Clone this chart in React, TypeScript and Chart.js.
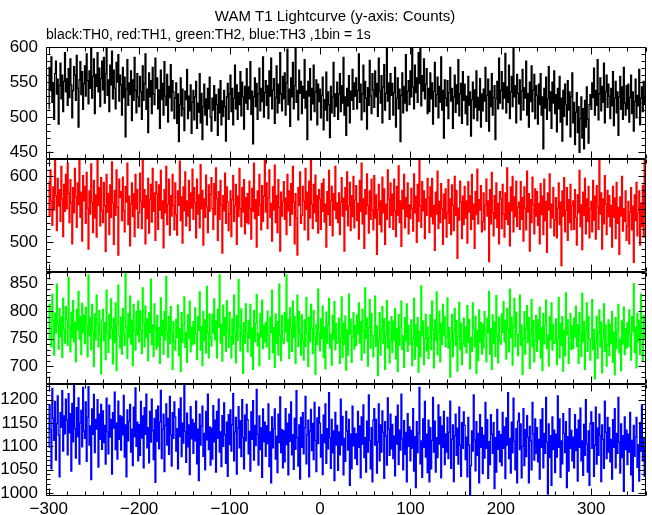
import { useEffect, useRef } from "react";
import { Chart, registerables } from "chart.js";

Chart.register(...registerables);

// ---- data (1 bin = 1 s, first bin at t = -300 s) ----
const T_START = -300;

const TH0 = [
  512, 571, 538, 586, 521, 549, 497, 562, 580, 533, 554, 490, 545, 577, 526, 560, 508, 551, 592, 536,
  555, 517, 569, 528, 583, 546, 499, 538, 572, 560, 524, 588, 541, 486, 553, 579, 532, 565, 511, 548,
  573, 530, 590, 552, 519, 566, 541, 598, 527, 558, 583, 505, 561, 544, 592, 536, 570, 515, 555, 580,
  539, 585, 520, 562, 600, 531, 553, 508, 574, 546, 594, 526, 567, 541, 512, 578, 550, 589, 523, 560,
  546, 503, 571, 528, 557, 472, 540, 582, 517, 549, 532, 566, 495, 553, 524, 585, 538, 506, 562, 529,
  515, 558, 536, 497, 573, 524, 548, 590, 511, 540, 478, 563, 529, 552, 505, 571, 533, 518, 584, 541,
  556, 512, 539, 484, 567, 525, 548, 503, 579, 530, 517, 561, 493, 544, 528, 575, 509, 552, 536, 498,
  527, 549, 491, 533, 465, 518, 556, 502, 540, 512, 481, 537, 525, 568, 498, 530, 509, 546, 477, 521,
  538, 496, 529, 551, 484, 520, 507, 562, 492, 534, 468, 515, 547, 503, 526, 489, 541, 512, 557, 500,
  480, 527, 510, 545, 495, 532, 518, 474, 540, 506, 552, 489, 523, 501, 538, 515, 466, 529, 548, 497,
  533, 560, 508, 541, 489, 527, 574, 512, 546, 497, 535, 518, 565, 502, 550, 529, 483, 544, 520, 569,
  511, 543, 526, 579, 504, 537, 462, 529, 556, 515, 548, 497, 533, 570, 509, 541, 522, 586, 500, 535,
  552, 517, 545, 498, 566, 530, 584, 512, 539, 555, 491, 528, 573, 506, 547, 520, 592, 533, 509, 558,
  526, 563, 503, 549, 597, 518, 540, 487, 556, 529, 578, 512, 545, 600, 521, 538, 496, 567, 534, 551,
  505, 544, 527, 582, 513, 537, 468, 551, 530, 569, 496, 541, 519, 574, 508, 536, 553, 489, 547, 522,
  540, 499, 531, 557, 482, 525, 510, 564, 495, 536, 518, 471, 544, 506, 529, 578, 501, 533, 515, 550,
  497, 533, 562, 508, 545, 520, 585, 503, 529, 474, 541, 516, 559, 492, 537, 524, 568, 511, 549, 530,
  556, 512, 538, 590, 521, 547, 496, 533, 574, 508, 551, 527, 483, 542, 517, 581, 530, 505, 562, 539,
  514, 566, 529, 548, 501, 584, 537, 520, 559, 492, 543, 575, 510, 534, 600, 523, 549, 497, 562, 531,
  548, 503, 535, 571, 486, 527, 556, 512, 540, 465, 531, 563, 506, 544, 520, 589, 509, 537, 552, 518,
  566, 529, 600, 543, 512, 574, 535, 556, 521, 592, 548, 600, 516, 559, 537, 583, 526, 547, 569, 505,
  541, 508, 563, 526, 549, 490, 537, 578, 515, 532, 557, 499, 544, 521, 586, 510, 538, 470, 553, 527,
  516, 552, 498, 535, 571, 523, 541, 484, 529, 560, 507, 546, 519, 582, 502, 533, 548, 491, 565, 524,
  547, 505, 530, 489, 558, 517, 536, 473, 525, 550, 498, 539, 514, 566, 495, 528, 510, 555, 486, 533,
  509, 540, 523, 571, 494, 531, 554, 480, 537, 515, 562, 503, 528, 545, 468, 526, 551, 512, 584, 520,
  538, 565, 512, 549, 527, 591, 506, 543, 521, 574, 498, 536, 558, 515, 600, 529, 545, 492, 561, 534,
  519, 553, 496, 537, 568, 510, 542, 527, 580, 503, 534, 486, 550, 522, 573, 508, 539, 561, 498, 545,
  531, 490, 547, 518, 562, 503, 529, 455, 541, 513, 557, 497, 526, 572, 509, 536, 484, 550, 520, 566,
  505, 532, 479, 541, 512, 558, 493, 527, 466, 538, 501, 547, 518, 489, 552, 510, 536, 472, 529, 563,
  492, 521, 461, 507, 535, 478, 515, 450, 498, 529, 470, 512, 455, 524, 486, 543, 497, 463, 518, 532,
  511, 549, 528, 570, 503, 538, 517, 582, 496, 533, 556, 509, 544, 521, 577, 492, 536, 560, 514, 547,
  530, 498, 541, 516, 565, 488, 527, 551, 506, 536, 474, 529, 558, 511, 543, 497, 571, 520, 503, 545,
  512, 547, 493, 528, 560, 505, 536, 480, 522, 554, 499, 531, 516, 568, 489, 527, 543, 508, 551, 518,
  530,
];

const TH1 = [
  592, 541, 610, 563, 526, 584, 549, 626, 571, 518, 597, 555, 580, 532, 615, 566, 509, 588, 547, 603,
  551, 620, 574, 530, 595, 560, 498, 583, 545, 612, 569, 523, 590, 557, 626, 538, 576, 502, 601, 563,
  585, 529, 606, 552, 490, 578, 543, 619, 561, 515, 594, 537, 572, 508, 626, 556, 583, 525, 598, 548,
  530, 591, 555, 486, 603, 546, 574, 512, 587, 538, 622, 560, 497, 579, 541, 610, 553, 481, 596, 568,
  577, 533, 599, 548, 516, 585, 561, 620, 527, 570, 495, 558, 590, 539, 574, 509, 603, 551, 580, 522,
  545, 605, 562, 521, 626, 553, 580, 498, 571, 536, 597, 514, 565, 588, 531, 612, 547, 575, 503, 592,
  574, 520, 587, 549, 609, 536, 563, 492, 580, 545, 615, 527, 558, 596, 511, 571, 540, 603, 556, 519,
  590, 542, 511, 578, 556, 623, 533, 569, 499, 584, 548, 607, 525, 563, 540, 594, 518, 575, 552, 611,
  535, 583, 560, 507, 596, 543, 572, 522, 618, 551, 579, 496, 566, 538, 602, 554, 515, 587, 547, 573,
  598, 551, 520, 589, 542, 613, 566, 503, 577, 535, 594, 557, 484, 571, 548, 605, 529, 584, 561, 518,
  543, 578, 509, 565, 601, 532, 556, 588, 497, 570, 539, 612, 551, 524, 583, 546, 595, 513, 568, 530,
  574, 528, 593, 551, 505, 582, 547, 620, 536, 565, 493, 578, 541, 603, 557, 519, 586, 532, 570, 626,
  546, 590, 521, 567, 610, 538, 559, 502, 584, 549, 617, 530, 571, 515, 595, 553, 487, 576, 540, 562,
  592, 535, 567, 512, 603, 548, 578, 526, 589, 543, 615, 561, 498, 574, 537, 481, 583, 556, 607, 529,
  541, 585, 563, 519, 612, 550, 576, 504, 593, 537, 626, 558, 521, 588, 545, 602, 532, 571, 514, 580,
  566, 520, 589, 547, 596, 531, 558, 493, 577, 542, 609, 526, 563, 585, 510, 574, 549, 615, 536, 560,
  530, 575, 512, 561, 598, 540, 567, 487, 583, 549, 607, 525, 555, 591, 518, 571, 539, 600, 522, 564,
  586, 533, 559, 505, 594, 547, 620, 528, 566, 491, 580, 543, 604, 556, 514, 578, 535, 596, 549, 519,
  601, 537, 572, 482, 550, 588, 527, 563, 516, 599, 545, 581, 497, 558, 535, 610, 566, 523, 590, 541,
  573, 520, 596, 548, 509, 585, 541, 616, 530, 563, 494, 579, 551, 603, 522, 568, 539, 590, 513, 557,
  536, 582, 551, 517, 604, 545, 570, 500, 588, 532, 626, 555, 523, 592, 548, 578, 506, 566, 541, 597,
  568, 515, 584, 539, 597, 528, 556, 488, 576, 543, 608, 521, 562, 530, 589, 551, 497, 573, 536, 581,
  508, 545, 595, 529, 566, 512, 587, 556, 518, 600, 541, 579, 476, 552, 534, 593, 561, 506, 570, 527,
  585, 537, 563, 499, 592, 546, 571, 520, 603, 535, 558, 491, 577, 542, 611, 528, 565, 549, 586, 516,
  532, 575, 519, 556, 596, 540, 563, 471, 580, 528, 606, 545, 510, 571, 536, 590, 523, 559, 498, 577,
  566, 521, 588, 543, 508, 575, 535, 613, 527, 560, 495, 584, 548, 600, 516, 569, 539, 593, 524, 553,
  561, 520, 592, 535, 568, 502, 584, 552, 519, 608, 546, 574, 487, 565, 530, 599, 557, 513, 581, 540,
  577, 526, 559, 498, 589, 542, 570, 512, 596, 533, 562, 485, 575, 549, 604, 522, 558, 537, 583, 510,
  534, 568, 507, 552, 590, 527, 561, 465, 578, 540, 598, 516, 549, 583, 503, 565, 530, 588, 519, 556,
  563, 520, 580, 538, 496, 572, 545, 609, 524, 557, 489, 576, 541, 597, 513, 566, 532, 585, 507, 550,
  562, 516, 594, 534, 570, 505, 586, 554, 520, 626, 543, 575, 490, 566, 528, 601, 558, 512, 579, 539,
  571, 524, 556, 493, 585, 538, 567, 506, 591, 529, 553, 482, 569, 540, 600, 517, 551, 532, 578, 503,
  525, 562, 498, 546, 583, 519, 555, 470, 572, 533, 591, 510, 544, 578, 496, 560, 524, 586, 508, 626,
  538,
];

const TH2 = [
  748, 812, 769, 735, 831, 782, 720, 796, 760, 849, 774, 731, 805, 753, 789, 716, 823, 767, 742, 808,
  785, 738, 861, 770, 726, 798, 752, 819, 744, 779, 708, 803, 766, 836, 749, 790, 721, 814, 761, 792,
  741, 807, 773, 717, 866, 755, 788, 730, 812, 764, 699, 795, 748, 829, 776, 735, 801, 758, 686, 784,
  803, 746, 779, 712, 838, 761, 725, 794, 750, 822, 769, 704, 787, 743, 815, 692, 776, 847, 755, 733,
  789, 722, 805, 760, 738, 870, 771, 714, 796, 752, 827, 740, 783, 701, 812, 765, 729, 799, 757, 818,
  744, 801, 766, 723, 842, 778, 735, 809, 752, 786, 710, 797, 761, 858, 739, 775, 718, 813, 768, 731,
  792, 737, 770, 705, 824, 756, 783, 722, 799, 748, 863, 764, 716, 790, 741, 808, 759, 694, 781, 745,
  729, 785, 752, 811, 719, 768, 690, 797, 743, 775, 826, 734, 762, 707, 793, 750, 818, 726, 771, 739,
  781, 741, 806, 758, 712, 790, 765, 835, 729, 772, 701, 799, 746, 784, 724, 845, 760, 715, 795, 753,
  737, 794, 760, 822, 748, 782, 715, 803, 771, 866, 742, 776, 709, 811, 756, 788, 727, 819, 765, 734,
  798, 752, 715, 786, 740, 829, 763, 706, 792, 747, 857, 771, 728, 804, 755, 687, 779, 742, 813, 761,
  726, 783, 751, 812, 718, 769, 694, 801, 745, 778, 830, 737, 760, 701, 796, 753, 820, 732, 774, 744,
  779, 735, 800, 757, 713, 789, 761, 838, 724, 770, 698, 795, 742, 781, 720, 849, 756, 710, 792, 748,
  741, 797, 762, 866, 745, 785, 714, 806, 769, 727, 818, 752, 790, 705, 773, 829, 736, 799, 758, 720,
  793, 747, 711, 784, 736, 825, 760, 699, 789, 744, 812, 768, 723, 801, 751, 685, 776, 739, 840, 759,
  728, 786, 750, 809, 716, 771, 695, 798, 741, 775, 823, 733, 758, 702, 792, 749, 817, 730, 777, 742,
  744, 787, 705, 752, 826, 716, 778, 739, 791, 693, 766, 720, 831, 758, 785, 707, 753, 797, 731, 774,
  738, 793, 759, 815, 742, 781, 711, 803, 765, 724, 842, 750, 787, 700, 770, 821, 733, 796, 755, 717,
  756, 827, 736, 773, 683, 748, 797, 720, 766, 808, 741, 786, 694, 757, 819, 733, 781, 706, 744, 790,
  725, 782, 747, 805, 713, 768, 690, 794, 738, 772, 818, 730, 755, 698, 788, 746, 813, 727, 774, 739,
  741, 784, 701, 749, 823, 713, 775, 736, 788, 689, 763, 717, 846, 755, 782, 703, 750, 794, 728, 771,
  714, 752, 793, 730, 818, 767, 697, 784, 747, 835, 721, 762, 800, 708, 778, 739, 812, 756, 790, 735,
  753, 824, 733, 770, 680, 745, 794, 717, 763, 805, 738, 783, 691, 754, 816, 730, 778, 703, 741, 787,
  736, 771, 724, 810, 743, 785, 695, 752, 727, 815, 769, 735, 791, 687, 765, 710, 802, 744, 779, 722,
  776, 733, 799, 755, 708, 787, 760, 836, 722, 768, 694, 793, 741, 780, 718, 828, 754, 706, 789, 746,
  740, 795, 761, 817, 744, 783, 713, 805, 767, 726, 840, 752, 789, 702, 772, 823, 735, 798, 757, 719,
  758, 829, 738, 775, 685, 750, 799, 722, 768, 810, 743, 788, 696, 759, 821, 735, 783, 708, 746, 792,
  727, 784, 749, 807, 715, 770, 692, 796, 740, 774, 820, 732, 757, 700, 790, 748, 815, 729, 776, 741,
  743, 786, 703, 751, 825, 715, 777, 738, 790, 691, 765, 719, 833, 757, 784, 705, 752, 796, 730, 773,
  732, 787, 753, 809, 736, 775, 705, 797, 759, 718, 832, 744, 781, 694, 764, 815, 727, 790, 749, 711,
  750, 821, 730, 767, 677, 742, 791, 714, 760, 802, 735, 780, 688, 751, 813, 727, 775, 700, 738, 784,
  719, 776, 741, 799, 707, 762, 684, 788, 732, 766, 812, 724, 749, 692, 782, 740, 807, 721, 768, 733,
  779, 736, 802, 758, 711, 790, 763, 850, 725, 771, 697, 796, 744, 783, 721, 831, 757, 709, 792, 749,
  756,
];

const TH3 = [
  1098, 1187, 1135, 1052, 1224, 1160, 1113, 1196, 1071, 1149, 1208, 1124, 1035, 1172, 1141, 1219, 1090, 1165, 1127, 1201,
  1156, 1082, 1213, 1129, 1170, 1047, 1192, 1110, 1230, 1138, 1075, 1183, 1121, 1204, 1062, 1150, 1177, 1099, 1226, 1133,
  1117, 1195, 1068, 1162, 1228, 1103, 1144, 1029, 1180, 1126, 1211, 1087, 1158, 1137, 1200, 1056, 1169, 1115, 1190, 1094,
  1176, 1108, 1145, 1062, 1203, 1131, 1084, 1188, 1120, 1158, 1041, 1172, 1139, 1216, 1093, 1150, 1073, 1197, 1115, 1166,
  1092, 1163, 1125, 1209, 1077, 1146, 1035, 1178, 1112, 1154, 1190, 1088, 1137, 1059, 1184, 1121, 1225, 1100, 1152, 1069,
  1147, 1081, 1196, 1118, 1165, 1054, 1183, 1126, 1212, 1097, 1140, 1065, 1175, 1109, 1201, 1134, 1072, 1160, 1023, 1178,
  1111, 1186, 1095, 1152, 1220, 1074, 1137, 1169, 1046, 1145, 1191, 1103, 1160, 1083, 1207, 1124, 1058, 1172, 1117, 1195,
  1163, 1090, 1138, 1052, 1180, 1121, 1204, 1078, 1150, 1107, 1231, 1132, 1066, 1171, 1099, 1146, 1040, 1185, 1116, 1158,
  1085, 1150, 1112, 1197, 1063, 1137, 1027, 1169, 1103, 1144, 1186, 1079, 1128, 1050, 1175, 1114, 1212, 1093, 1142, 1060,
  1139, 1073, 1187, 1110, 1156, 1045, 1175, 1117, 1201, 1088, 1131, 1057, 1166, 1100, 1193, 1125, 1064, 1152, 1036, 1168,
  1104, 1178, 1090, 1146, 1213, 1069, 1131, 1162, 1041, 1139, 1185, 1097, 1155, 1078, 1200, 1119, 1052, 1167, 1112, 1190,
  1157, 1084, 1132, 1047, 1174, 1115, 1198, 1071, 1145, 1102, 1222, 1126, 1060, 1165, 1093, 1140, 1034, 1180, 1110, 1152,
  1079, 1144, 1106, 1191, 1057, 1131, 1022, 1163, 1097, 1138, 1180, 1073, 1122, 1044, 1169, 1108, 1206, 1087, 1136, 1054,
  1133, 1067, 1181, 1104, 1150, 1039, 1169, 1111, 1195, 1082, 1125, 1051, 1160, 1094, 1219, 1119, 1058, 1146, 1030, 1162,
  1098, 1172, 1084, 1140, 1207, 1063, 1125, 1156, 1035, 1133, 1179, 1091, 1149, 1072, 1194, 1113, 1046, 1161, 1106, 1184,
  1150, 1077, 1125, 1040, 1167, 1108, 1191, 1064, 1138, 1095, 1215, 1119, 1053, 1158, 1086, 1133, 1027, 1173, 1103, 1145,
  1049, 1131, 1082, 1201, 1103, 1164, 1039, 1117, 1068, 1175, 1133, 1092, 1158, 1017, 1126, 1052, 1186, 1101, 1139, 1074,
  1127, 1061, 1175, 1098, 1144, 1033, 1163, 1105, 1189, 1076, 1119, 1045, 1154, 1088, 1210, 1113, 1052, 1140, 1024, 1156,
  1181, 1103, 1158, 1043, 1110, 1191, 1069, 1146, 1088, 1176, 1130, 1032, 1153, 1122, 1060, 1204, 1137, 1081, 1169, 1095,
  1147, 1074, 1122, 1037, 1164, 1105, 1188, 1061, 1135, 1092, 1212, 1116, 1050, 1155, 1083, 1130, 1024, 1170, 1100, 1142,
  1069, 1134, 1096, 1181, 1047, 1121, 1012, 1153, 1087, 1128, 1226, 1063, 1112, 1034, 1159, 1098, 1196, 1077, 1126, 1044,
  1156, 1024, 1140, 1052, 1113, 1205, 1088, 1154, 1045, 1119, 1076, 1189, 1105, 1163, 1033, 1144, 1098, 1175, 1061, 1127,
  1088, 1162, 1074, 1130, 1197, 1053, 1115, 1146, 1025, 1123, 1169, 1081, 1139, 1062, 1184, 1103, 1036, 1151, 1096, 1174,
  1145, 1072, 1120, 1035, 1162, 1103, 996, 1059, 1133, 1090, 1210, 1114, 1048, 1153, 1081, 1128, 1022, 1168, 1098, 1140,
  1042, 1124, 1075, 1194, 1096, 1157, 1032, 1110, 1061, 1168, 1126, 1085, 1151, 1010, 1119, 1045, 1179, 1094, 1132, 1067,
  1125, 1059, 1173, 1096, 1142, 1031, 1161, 1103, 1215, 1074, 1117, 1043, 1152, 1086, 1203, 1111, 1050, 1138, 1022, 1154,
  1171, 1093, 1148, 1033, 1100, 1181, 1059, 1136, 1078, 1166, 1120, 1022, 1143, 1112, 1050, 1194, 1127, 1071, 1159, 1085,
  1140, 1067, 1115, 1030, 1157, 1098, 1181, 1054, 1128, 1085, 1205, 1109, 998, 1148, 1076, 1123, 1017, 1163, 1093, 1135,
  1044, 1126, 1077, 1208, 1098, 1159, 1034, 1112, 1063, 1170, 1128, 1087, 1153, 1012, 1121, 1047, 1181, 1096, 1134, 1069,
  1120, 1054, 1168, 1091, 1137, 1026, 1156, 1098, 1182, 1069, 1112, 1038, 1147, 1081, 1200, 1106, 1045, 1133, 1017, 1149,
  1174, 1096, 1151, 1036, 1103, 1184, 1062, 1139, 1081, 1169, 1123, 1025, 1146, 1115, 1053, 1197, 1130, 1074, 1162, 1088,
  1140, 1067, 1115, 1030, 1157, 1098, 1181, 1054, 1128, 1085, 1205, 1109, 1043, 1148, 1076, 1123, 1004, 1163, 1093, 1135,
  1061, 1126, 1088, 1173, 1039, 1113, 1004, 1145, 1079, 1120, 1162, 1055, 1104, 1026, 1151, 1090, 1188, 1069, 1118, 1036,
  1098,
];

// tick labels
const X_TICKS = [-300, -200, -100, 0, 100, 200, 300];
const Y_TICKS_TH0 = [450, 500, 550, 600];
const Y_TICKS_TH1 = [500, 550, 600];
const Y_TICKS_TH2 = [700, 750, 800, 850];
const Y_TICKS_TH3 = [1000, 1050, 1100, 1150, 1200];

// axis ranges
const X_RANGE = [-303, 360.5];
const Y_RANGE_TH0 = [440, 600];
const Y_RANGE_TH1 = [456, 626];
const Y_RANGE_TH2 = [668, 872];
const Y_RANGE_TH3 = [994, 1234];

const TITLE = "WAM T1 Lightcurve (y-axis: Counts)";
const SUBTITLE = "black:TH0, red:TH1, green:TH2, blue:TH3 ,1bin = 1s";

const FONT = "'Liberation Sans', Arial, Helvetica, sans-serif";

// top-to-bottom panel order
const PANELS = [
  { id: "y0", label: "TH0", data: TH0, color: "#000000", range: Y_RANGE_TH0, ticks: Y_TICKS_TH0 },
  { id: "y1", label: "TH1", data: TH1, color: "#ff0000", range: Y_RANGE_TH1, ticks: Y_TICKS_TH1 },
  { id: "y2", label: "TH2", data: TH2, color: "#00ff00", range: Y_RANGE_TH2, ticks: Y_TICKS_TH2 },
  { id: "y3", label: "TH3", data: TH3, color: "#0000ff", range: Y_RANGE_TH3, ticks: Y_TICKS_TH3 },
];

const MAJOR = 7;
const MINOR = 4;

function fmt(v: number) {
  return v < 0 ? "\u2212" + Math.abs(v) : String(v);
}

const clipPlugin = {
  id: "panelClip",
  beforeDatasetDraw(chart: any, args: any) {
    const ys = chart.scales[args.meta.yAxisID];
    const a = chart.chartArea;
    const ctx = chart.ctx;
    ctx.save();
    ctx.beginPath();
    ctx.rect(a.left, ys.top, a.right - a.left, ys.bottom - ys.top);
    ctx.clip();
  },
  afterDatasetDraw(chart: any) {
    chart.ctx.restore();
  },
};

const framePlugin = {
  id: "panelFrames",
  afterDatasetsDraw(chart: any) {
    const ctx = chart.ctx;
    const a = chart.chartArea;
    const xs = chart.scales.x;
    ctx.save();
    ctx.strokeStyle = "#000";
    ctx.lineWidth = 1;
    const L = Math.round(a.left) + 0.5;
    const R = Math.round(a.right) - 0.5;
    for (const p of PANELS) {
      const ys = chart.scales[p.id];
      const T = Math.round(ys.top) + 0.5;
      const B = Math.round(ys.bottom) - 0.5;
      ctx.beginPath();
      ctx.rect(L, T, R - L, B - T);
      for (let v = Math.ceil(ys.min / 10) * 10; v <= ys.max; v += 10) {
        const y = Math.round(ys.getPixelForValue(v)) + 0.5;
        const len = p.ticks.includes(v) ? MAJOR : MINOR;
        ctx.moveTo(L, y);
        ctx.lineTo(L + len, y);
        ctx.moveTo(R, y);
        ctx.lineTo(R - len, y);
      }
      for (let v = X_TICKS[0]; v <= xs.max; v += 20) {
        const x = Math.round(xs.getPixelForValue(v)) + 0.5;
        const len = X_TICKS.includes(v) ? MAJOR : MINOR;
        ctx.moveTo(x, T);
        ctx.lineTo(x, T + len);
        ctx.moveTo(x, B);
        ctx.lineTo(x, B - len);
      }
      ctx.stroke();
    }
    ctx.restore();
  },
};

const textPlugin = {
  id: "titles",
  afterDraw(chart: any) {
    const ctx = chart.ctx;
    ctx.save();
    ctx.fillStyle = "#000";
    ctx.textBaseline = "alphabetic";
    ctx.font = `15px ${FONT}`;
    ctx.textAlign = "center";
    ctx.fillText(TITLE, 335, 21);
    ctx.font = `14px ${FONT}`;
    ctx.textAlign = "left";
    ctx.fillText(SUBTITLE, chart.chartArea.left, 39);
    ctx.restore();
  },
};

export default function App() {
  const ref = useRef<HTMLCanvasElement>(null);

  useEffect(() => {
    const canvas = ref.current;
    if (!canvas) return;

    const datasets = PANELS.map((p) => ({
      label: p.label,
      data: p.data.map((v, i) => ({ x: T_START + i, y: v })),
      yAxisID: p.id,
      borderColor: p.color,
      backgroundColor: p.color,
      borderWidth: 1.3,
      pointRadius: 0,
      stepped: "middle" as const,
      fill: false,
    }));

    const yScale = (p: (typeof PANELS)[number]) => ({
      type: "linear" as const,
      position: "left" as const,
      stack: "lc",
      stackWeight: 1,
      offset: false,
      min: p.range[0],
      max: p.range[1],
      grid: { display: false, drawTicks: false },
      border: { display: false },
      ticks: {
        color: "#000",
        font: { family: FONT, size: 17 },
        padding: 8,
        autoSkip: false,
        callback: (v: any) => fmt(Number(v)),
      },
      afterBuildTicks: (s: any) => {
        s.ticks = p.ticks.map((v) => ({ value: v }));
      },
      afterFit: (s: any) => {
        s.width = 46;
      },
    });

    // bottom-most axis first: Chart.js places later stacked axes on top
    const scales: any = {
      x: {
        type: "linear",
        position: "bottom",
        min: X_RANGE[0],
        max: X_RANGE[1],
        grid: { display: false, drawTicks: false },
        border: { display: false },
        ticks: {
          color: "#000",
          font: { family: FONT, size: 17 },
          padding: 3,
          maxRotation: 0,
          autoSkip: false,
          callback: (v: any) => fmt(Number(v)),
        },
        afterBuildTicks: (s: any) => {
          s.ticks = X_TICKS.map((v) => ({ value: v }));
        },
        afterFit: (s: any) => {
          s.height = 19;
        },
      },
      y3: yScale(PANELS[3]),
      y2: yScale(PANELS[2]),
      y1: yScale(PANELS[1]),
      y0: yScale(PANELS[0]),
    };

    const chart = new Chart(canvas, {
      type: "line",
      data: { datasets },
      options: {
        animation: false,
        responsive: false,
        maintainAspectRatio: false,
        events: [],
        layout: { padding: { top: 47, right: 6, left: 0, bottom: 0 } },
        plugins: {
          legend: { display: false },
          title: { display: false },
          tooltip: { enabled: false },
        },
        scales,
      },
      plugins: [clipPlugin, framePlugin, textPlugin],
    } as any);

    return () => chart.destroy();
  }, []);

  return (
    <div style={{ position: "absolute", left: 0, top: 0, width: 652, height: 515, background: "#fff" }}>
      <canvas ref={ref} width={652} height={515} style={{ display: "block", width: 652, height: 515 }} />
    </div>
  );
}
